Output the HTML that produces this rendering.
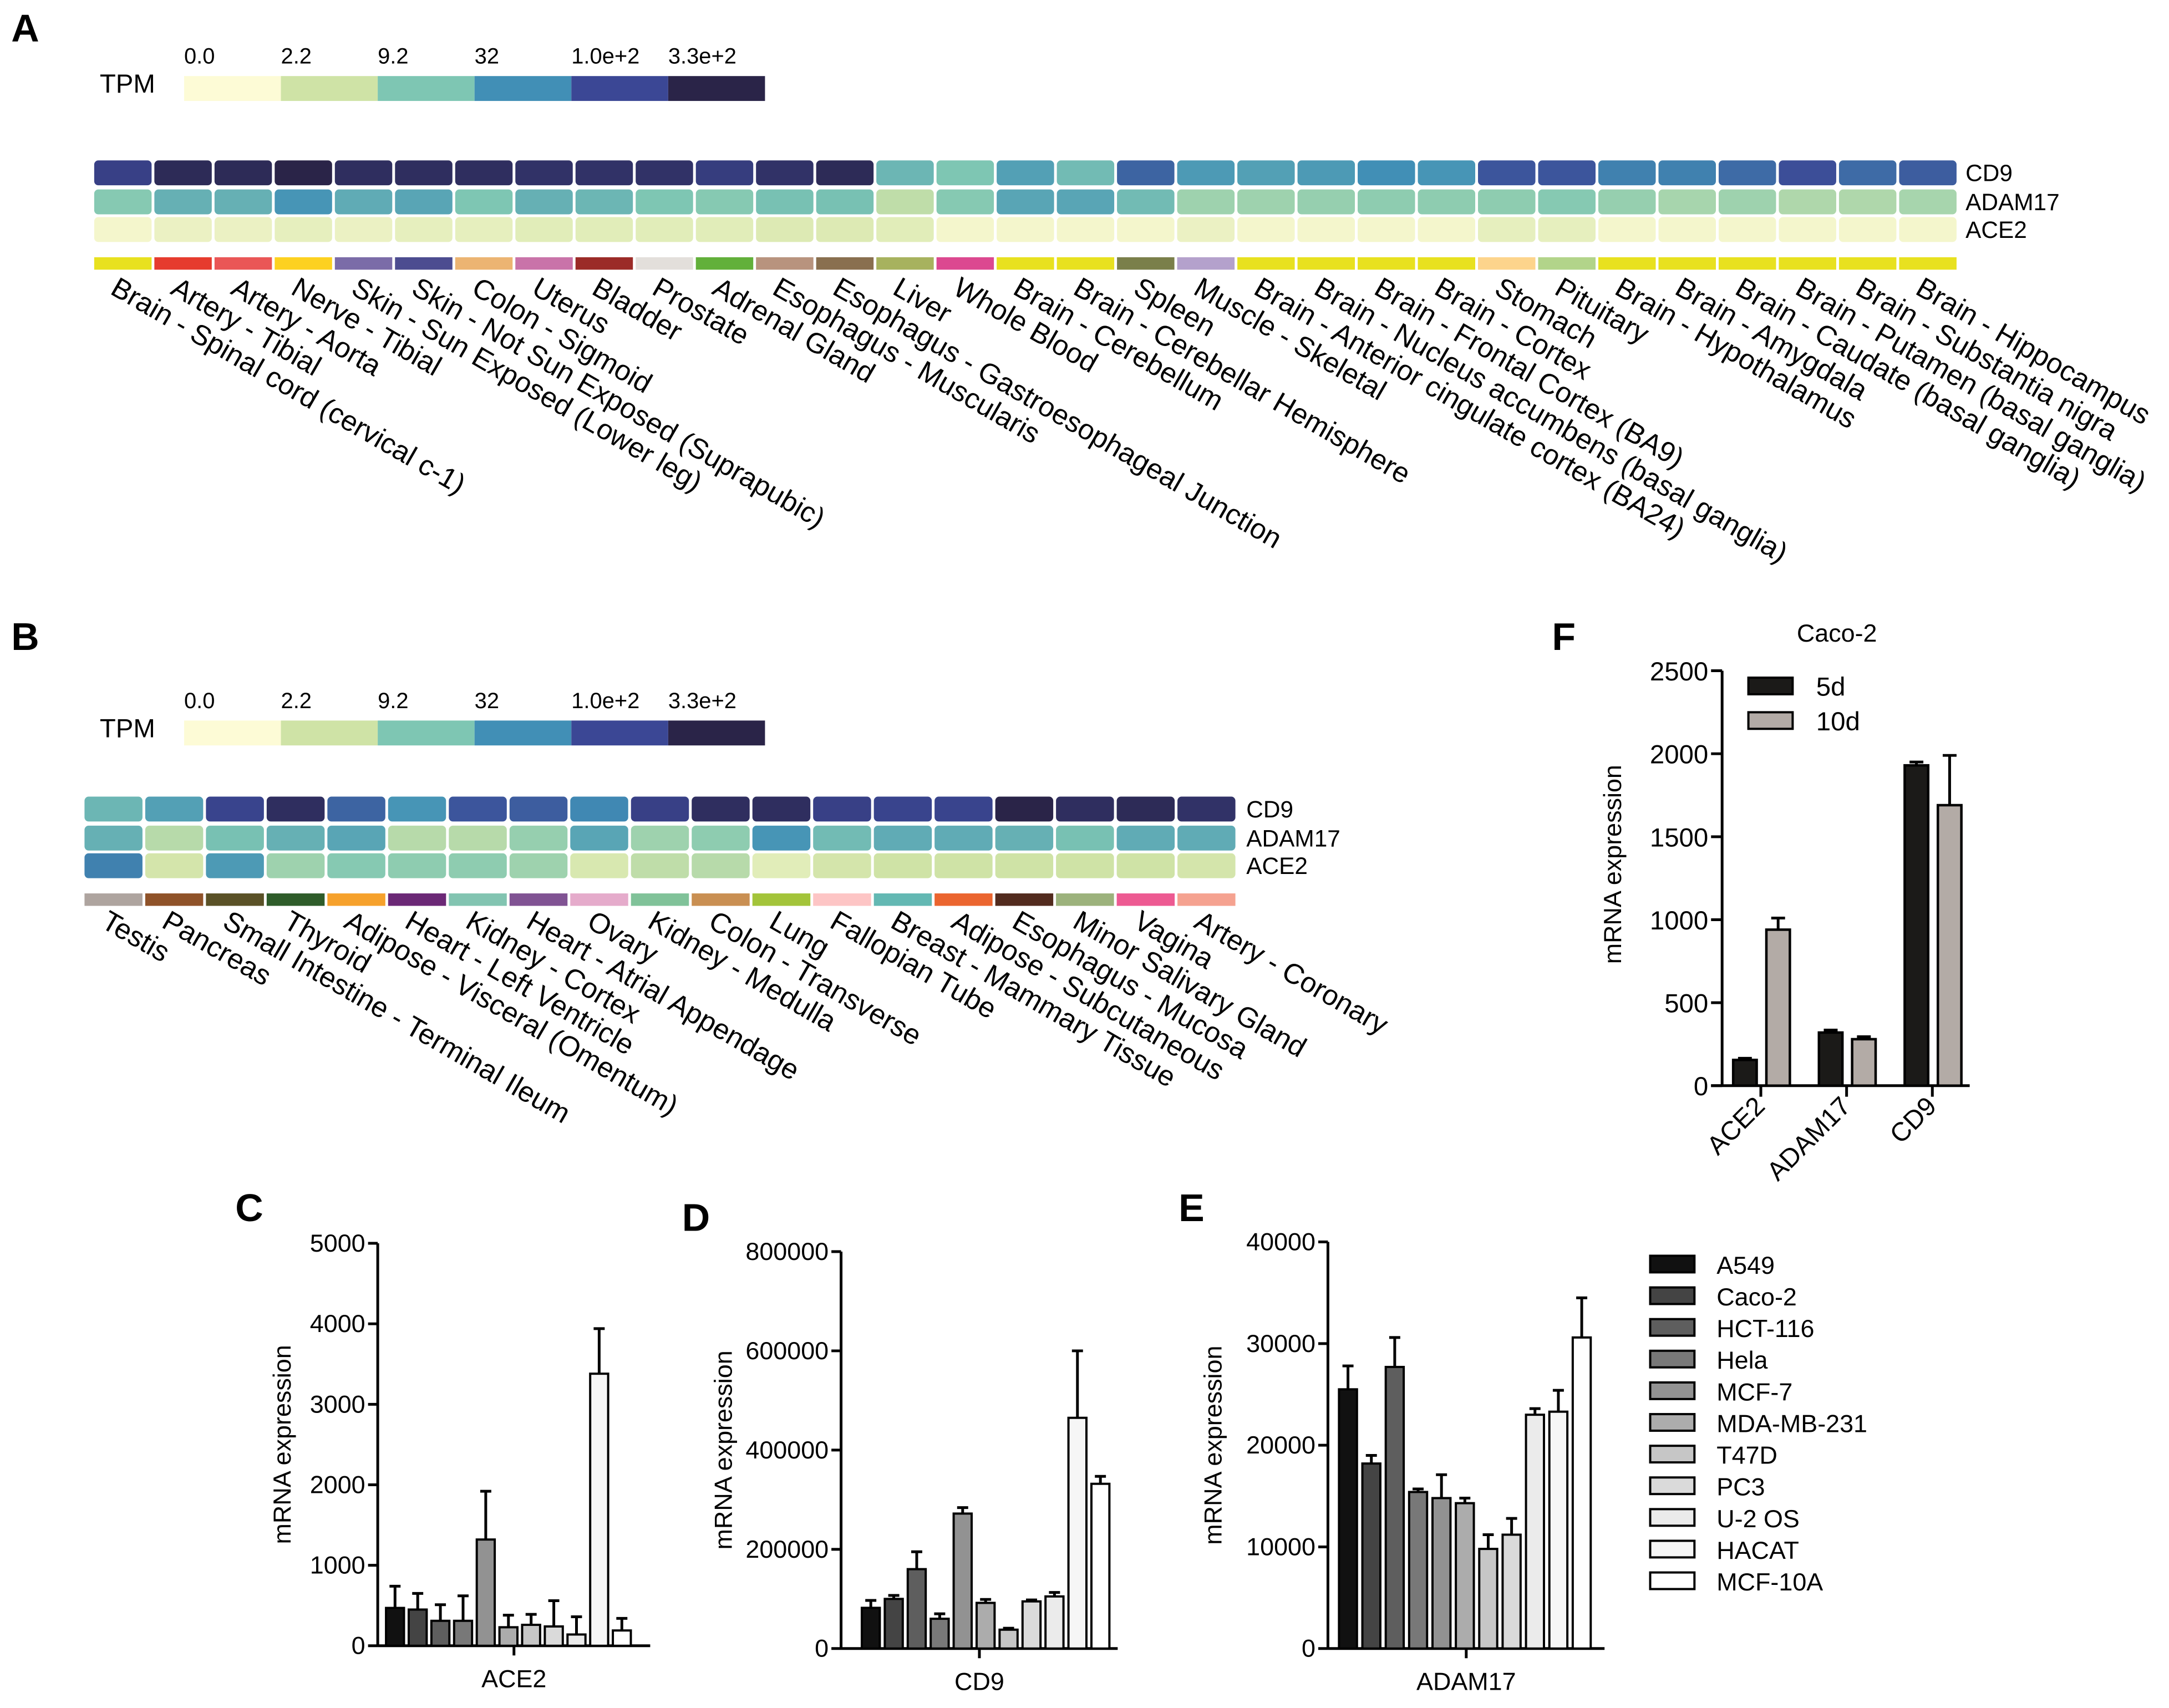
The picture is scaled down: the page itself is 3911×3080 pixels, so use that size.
<!DOCTYPE html>
<html><head><meta charset="utf-8"><style>
html,body{margin:0;padding:0;background:#fff}
svg{display:block;font-family:"Liberation Sans",Arial,sans-serif}
</style></head><body>
<svg id="fig" width="3911" height="3080" viewBox="0 0 1568 1235" xmlns="http://www.w3.org/2000/svg">
<rect width="1568" height="1235" fill="#fff"/>
<g id="root"></g>
</svg>
<script>
// ===== Data =====
const tpmTicks = ["0.0","2.2","9.2","32","1.0e+2","3.3e+2"];
const geneRows = ["CD9","ADAM17","ACE2"];
const tissuesA = ["Brain - Spinal cord (cervical c-1)","Artery - Tibial","Artery - Aorta","Nerve - Tibial","Skin - Sun Exposed (Lower leg)","Skin - Not Sun Exposed (Suprapubic)","Colon - Sigmoid","Uterus","Bladder","Prostate","Adrenal Gland","Esophagus - Muscularis","Esophagus - Gastroesophageal Junction","Liver","Whole Blood","Brain - Cerebellum","Brain - Cerebellar Hemisphere","Spleen","Muscle - Skeletal","Brain - Anterior cingulate cortex (BA24)","Brain - Nucleus accumbens (basal ganglia)","Brain - Frontal Cortex (BA9)","Brain - Cortex","Stomach","Pituitary","Brain - Hypothalamus","Brain - Amygdala","Brain - Caudate (basal ganglia)","Brain - Putamen (basal ganglia)","Brain - Substantia nigra","Brain - Hippocampus"];
const cd9A = [4.2,4.8,4.8,5,4.7,4.7,4.7,4.6,4.6,4.6,4.3,4.6,4.8,2.3,2.0,2.7,2.2,3.6,2.8,2.7,2.8,3.0,2.9,3.8,3.8,3.2,3.2,3.5,3.9,3.5,3.7];
const adam17A = [1.9,2.4,2.4,2.9,2.5,2.6,2.0,2.4,2.3,2.0,1.9,2.1,2.1,1.2,1.9,2.6,2.6,2.2,1.6,1.6,1.7,1.8,1.8,1.8,1.9,1.7,1.5,1.6,1.4,1.4,1.5];
const ace2A = [0.2,0.4,0.4,0.5,0.4,0.5,0.5,0.6,0.6,0.6,0.6,0.7,0.7,0.6,0.2,0.2,0.2,0.2,0.4,0.2,0.2,0.2,0.2,0.5,0.5,0.2,0.2,0.2,0.2,0.2,0.2];
const tissueColorsA = ["#e8e11f","#e63b2e","#ea5656","#fdd120","#7b6ca8","#4c4c90","#ecb472","#c973a9","#9b2b28","#e3dfdb","#62b03a","#b8937e","#896f4f","#a7b25e","#dc4890","#e8e11f","#e8e11f","#7a7f4a","#b4a1cc","#e8e11f","#e8e11f","#e8e11f","#e8e11f","#fdd48c","#b2d48a","#e8e11f","#e8e11f","#e8e11f","#e8e11f","#e8e11f","#e8e11f"];
const tissuesB = ["Testis","Pancreas","Small Intestine - Terminal Ileum","Thyroid","Adipose - Visceral (Omentum)","Heart - Left Ventricle","Kidney - Cortex","Heart - Atrial Appendage","Ovary","Kidney - Medulla","Colon - Transverse","Lung","Fallopian Tube","Breast - Mammary Tissue","Adipose - Subcutaneous","Esophagus - Mucosa","Minor Salivary Gland","Vagina","Artery - Coronary"];
const cd9B = [2.3,2.7,4.1,4.7,3.6,2.9,3.8,3.7,3.1,4.2,4.7,4.7,4.2,4.1,4.1,5.0,4.7,4.8,4.6];
const adam17B = [2.4,1.3,2.1,2.4,2.6,1.3,1.3,1.7,2.6,1.6,1.8,2.9,2.2,2.5,2.5,2.4,2.1,2.5,2.5];
const ace2B = [3.2,0.9,2.8,1.6,1.9,1.8,1.8,1.6,0.8,1.2,1.3,0.6,0.9,1.0,1.0,1.0,1.0,1.0,0.9];
const tissueColorsB = ["#aea49f","#8f5229","#5a5127","#2e5c2a","#f6a12c","#6b2876","#82c4b1","#805393","#e5abcb","#80c299","#c98f52","#a3c43a","#fdc5c5","#63b8b3","#eb652f","#522b1e","#9cb27c","#ed5a92","#f5a290"];

const cellLines = ["A549","Caco-2","HCT-116","Hela","MCF-7","MDA-MB-231","T47D","PC3","U-2 OS","HACAT","MCF-10A"];
const aceVals = [470,450,310,310,1320,230,260,240,140,3380,190];
const aceErr = [270,200,200,310,600,150,130,320,220,560,150];
const cd9Vals = [82000,100000,160000,60000,272000,92000,38000,95000,105000,465000,332000];
const cd9Err = [15000,7000,35000,10000,12000,7000,3000,3000,8000,135000,15000];
const adamVals = [25500,18200,27700,15400,14800,14300,9800,11200,23000,23300,30600];
const adamErr = [2300,800,2900,300,2300,500,1400,1600,600,2100,3900];
const aceTicks = [0,1000,2000,3000,4000,5000];
const cd9Ticks = [0,200000,400000,600000,800000];
const adamTicks = [0,10000,20000,30000,40000];

const fGenes = ["ACE2","ADAM17","CD9"];
const fSeries = ["5d","10d"];
const f5d = [155,320,1930];
const f5dErr = [10,15,20];
const f10d = [940,280,1690];
const f10dErr = [70,15,300];
const fTicks = [0,500,1000,1500,2000,2500];

// ===== Helpers =====
const NS="http://www.w3.org/2000/svg";
const root=document.getElementById('root');
function el(tag,attrs,parent,text){const e=document.createElementNS(NS,tag);for(const k in attrs)e.setAttribute(k,attrs[k]);if(text!==undefined)e.textContent=text;(parent||root).appendChild(e);return e;}
const stops=["#fdfbd6","#cfe3a6","#7ec6b3","#418fb6","#3b4795","#2a2448"];
function hex(c){return [1,3,5].map(i=>parseInt(c.substr(i,2),16));}
function colorFor(v){v=Math.max(0,Math.min(5,v));const i=Math.min(4,Math.floor(v));const t=v-i;const a=hex(stops[i]),b=hex(stops[i+1]);return "rgb("+a.map((x,j)=>Math.round(x+(b[j]-x)*t)).join(",")+")";}

function panelLetter(t,x,y){const e=el('text',{x:x,y:y,'font-size':28,'font-weight':'bold'},root,t);

}

function colorbar(y,name){
  const g=el('g',{});
  
  
  const t=el('text',{x:72,y:y+12,'font-size':19},g,'TPM');
  
  
  tpmTicks.forEach((lab,i)=>{
    const r=el('rect',{x:133+i*70,y:y,width:70,height:18,fill:stops[i]},g);
    
    
    const tx=el('text',{x:133+i*70,y:y-9,'font-size':16},g,lab);
    
    
  });
}

function heatmap(name,x0,cw,rowY,rh,rows,stripY,cols,labels,labY,labelX){
  const g=el('g',{});
  
  
  rows.forEach((vals,r)=>{
    vals.forEach((v,i)=>{
      const c=el('rect',{x:x0+i*cw+1,y:rowY[r],width:cw-2,height:rh,rx:3,fill:colorFor(v)},g);
      
      
    });
    const gl=el('text',{x:labelX,y:rowY[r]+rh-3,'font-size':17},g,geneRows[r]);
    
    
  });
  cols.forEach((c,i)=>{
    const s=el('rect',{x:x0+i*cw+1,y:stripY,width:cw-2,height:9,fill:c},g);
    
    
  });
  labels.forEach((l,i)=>{
    const cx=x0+i*cw+cw/2-10;
    const t=el('text',{x:cx,y:labY,'font-size':20.5,transform:`rotate(30 ${cx} ${labY})`},g,l);
    
    
  });
}

const greys=["#111111","#444444","#5e5e5e","#787878","#929292","#acacac","#c6c6c6","#dadada","#ebebeb","#f6f6f6","#ffffff"];
function barChart(name,ax,top,bottom,xEnd,ticks,vals,errs,xlab,bx0,bstep,bw,titleX){
  const g=el('g',{});
  
  
  const max=ticks[ticks.length-1];
  const ys=v=>bottom-(v/max)*(bottom-top);
  el('line',{x1:ax,y1:top,x2:ax,y2:bottom,stroke:'#000','stroke-width':2},g);
  el('line',{x1:ax,y1:bottom,x2:xEnd,y2:bottom,stroke:'#000','stroke-width':2},g);
  ticks.forEach(t=>{
    el('line',{x1:ax-7,y1:ys(t),x2:ax,y2:ys(t),stroke:'#000','stroke-width':2},g);
    const tx=el('text',{x:ax-9,y:ys(t)+6,'font-size':18,'text-anchor':'end'},g,String(t));
    
    
  });
  const mid=(ax+xEnd)/2;
  el('line',{x1:mid,y1:bottom,x2:mid,y2:bottom+7,stroke:'#000','stroke-width':2},g);
  const xl=el('text',{x:mid,y:bottom+30,'font-size':18,'text-anchor':'middle'},g,xlab);
  
  
  const yt=el('text',{x:0,y:0,'font-size':18,'text-anchor':'middle',transform:`translate(${titleX} ${(top+bottom)/2}) rotate(-90)`},g,'mRNA expression');
  
  
  vals.forEach((v,i)=>{
    const x=bx0+i*bstep, y=ys(v), ye=ys(v+errs[i]);
    el('line',{x1:x+bw/2,y1:y,x2:x+bw/2,y2:ye,stroke:'#000','stroke-width':2},g);
    el('line',{x1:x+bw/2-4,y1:ye,x2:x+bw/2+4,y2:ye,stroke:'#000','stroke-width':2},g);
    const b=el('rect',{x:x,y:y,width:bw,height:bottom-y,fill:greys[i],stroke:'#000','stroke-width':1.6},g);
    
    
  });
}

// ===== Panels A/B =====
panelLetter('A',8,30);
colorbar(55,'colorbar-a');
heatmap('heatmap-a',67,43.5,[116,137,157],18,[cd9A,adam17A,ace2A],186,tissueColorsA,tissuesA,212,1421);
panelLetter('B',8,470);
colorbar(521,'colorbar-b');
heatmap('heatmap-b',60,43.9,[576,597,617],18,[cd9B,adam17B,ace2B],646,tissueColorsB,tissuesB,670,901);

// ===== Panels C/D/E =====
panelLetter('C',170,883);
barChart('chart-c-ace2',273,899,1190,470,aceTicks,aceVals,aceErr,'ACE2',279,16.4,13,210);
panelLetter('D',493,890);
barChart('chart-d-cd9',608,905,1192,808,cd9Ticks,cd9Vals,cd9Err,'CD9',623,16.6,13,529);
panelLetter('E',852,883);
barChart('chart-e-adam17',960,898,1192,1160,adamTicks,adamVals,adamErr,'ADAM17',968,16.9,13,883);

// legend
const lg=el('g',{});


cellLines.forEach((c,i)=>{
  const y=908+i*22.9;
  const s=el('rect',{x:1193,y:y,width:32,height:12,fill:greys[i],stroke:'#000','stroke-width':1.6},lg);
  
  
  const t=el('text',{x:1241,y:y+13,'font-size':18},lg,c);
  
  
});

// ===== Panel F =====
panelLetter('F',1122,470);
(function(){
  const g=el('g',{});
  
  
  const ax=1245,top=485,bottom=785,xEnd=1424,max=2500;
  const ys=v=>bottom-(v/max)*(bottom-top);
  const tt=el('text',{x:1328,y:464,'font-size':18,'text-anchor':'middle'},g,'Caco-2');
  
  
  el('line',{x1:ax,y1:top,x2:ax,y2:bottom,stroke:'#000','stroke-width':2},g);
  el('line',{x1:ax-8,y1:bottom,x2:xEnd,y2:bottom,stroke:'#000','stroke-width':2},g);
  fTicks.forEach(t=>{
    el('line',{x1:ax-8,y1:ys(t),x2:ax,y2:ys(t),stroke:'#000','stroke-width':2},g);
    const tx=el('text',{x:ax-10,y:ys(t)+7,'font-size':19,'text-anchor':'end'},g,String(t));
    
    
  });
  const yt=el('text',{x:0,y:0,'font-size':18,'text-anchor':'middle',transform:`translate(1172 ${(top+bottom)/2 - 10}) rotate(-90)`},g,'mRNA expression');
  
  
  const series=[[f5d,f5dErr,'#1b1a18'],[f10d,f10dErr,'#b3aba6']];
  fGenes.forEach((gname,i)=>{
    const gx=1253+i*62;
    series.forEach((s,j)=>{
      const x=gx+j*24,w=17,v=s[0][i],y=ys(v),ye=ys(v+s[1][i]);
      el('line',{x1:x+w/2,y1:y,x2:x+w/2,y2:ye,stroke:'#000','stroke-width':2},g);
      el('line',{x1:x+w/2-5,y1:ye,x2:x+w/2+5,y2:ye,stroke:'#000','stroke-width':2},g);
      const b=el('rect',{x:x,y:y,width:w,height:bottom-y,fill:s[2],stroke:'#000','stroke-width':1.8},g);
      
      
    });
    const cx=gx+20;
    el('line',{x1:cx,y1:bottom,x2:cx,y2:bottom+8,stroke:'#000','stroke-width':2},g);
    const lx=cx+4,ly=bottom+16;
    const lab=el('text',{x:lx,y:ly,'font-size':19,'text-anchor':'end',transform:`rotate(-45 ${lx} ${ly})`},g,gname);
    
    
  });
  series.forEach((s,j)=>{
    const y=490+j*25;
    const sw=el('rect',{x:1264,y:y,width:32,height:12,fill:s[2],stroke:'#000','stroke-width':1.6},g);
    
    
    const t=el('text',{x:1313,y:y+13,'font-size':19},g,fSeries[j]);
    
    
  });
})();
</script>
</body></html>
